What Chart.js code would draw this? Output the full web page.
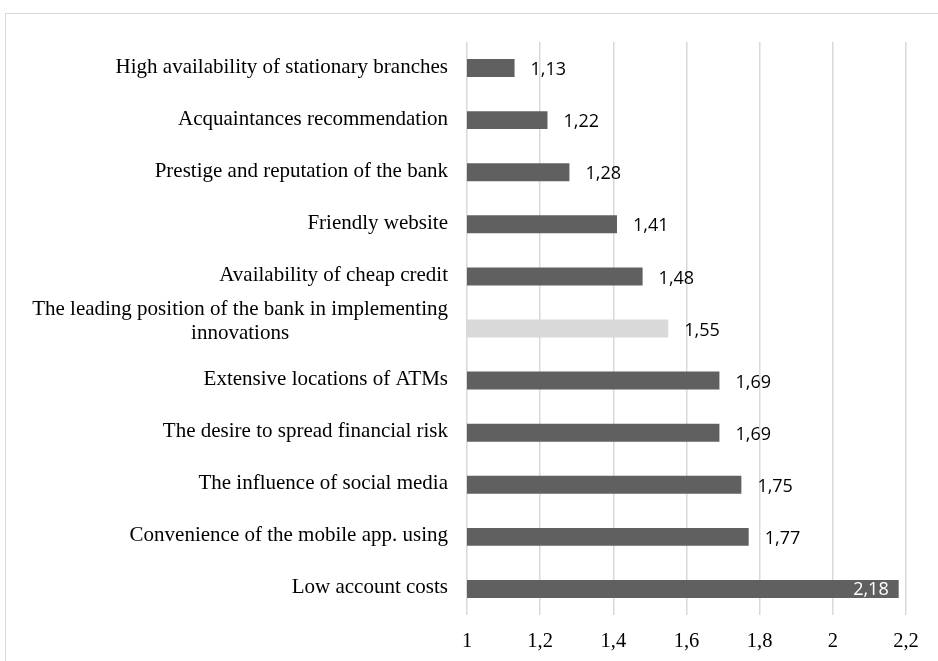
<!DOCTYPE html>
<html>
<head>
<meta charset="utf-8">
<script src="https://cdn.jsdelivr.net/npm/chart.js@4"></script>
<style>
    body { margin: 0; background: #fff; }
    #wrap { position: relative; width: 938px; height: 661px; overflow: hidden; }
    #frame { position: absolute; left: 5px; top: 13px; width: 1000px; height: 700px; border: 1.5px solid #d9d9d9; }
    canvas { position: absolute; left: 0; top: 0; }
</style>
</head>
<body>
<div id="wrap">
    <div id="frame"></div>
    <canvas id="chart" width="938" height="661"></canvas>
</div>
<script>
const labels = [
    "High availability of stationary branches",
    "Acquaintances recommendation",
    "Prestige and reputation of the bank",
    "Friendly website",
    "Availability of cheap credit",
    ["The leading position of the bank in implementing", "innovations"],
    "Extensive locations of ATMs",
    "The desire to spread financial risk",
    "The influence of social media",
    "Convenience of the mobile app. using",
    "Low account costs"
];
const values = [1.13, 1.22, 1.28, 1.41, 1.48, 1.55, 1.69, 1.69, 1.75, 1.77, 2.18];
const highlighted = 5;
const insideLabel = 10;

const serif = '"Liberation Serif", "Times New Roman", serif';
const fmt = v => String(v).replace('.', ',');

// category names on the left, multi-line ones centred on each other
const yLabelsPlugin = {
    id: 'yLabels',
    afterDraw(chart) {
        const ctx = chart.ctx;
        const y = chart.scales.y;
        ctx.save();
        ctx.font = '21px ' + serif;
        ctx.fillStyle = '#000';
        ctx.textBaseline = 'middle';
        const right = 448;
        labels.forEach((lab, i) => {
            const cy = y.getPixelForValue(i);
            if (Array.isArray(lab)) {
                const w = Math.max(...lab.map(t => ctx.measureText(t).width));
                const cx = right - w / 2;
                ctx.textAlign = 'center';
                const lh = 24;
                lab.forEach((t, k) => {
                    ctx.fillText(t, cx, cy - 7 + (k - (lab.length - 1) / 2) * lh);
                });
            } else {
                ctx.textAlign = 'right';
                ctx.fillText(lab, right, cy - 1);
            }
        });
        ctx.restore();
    }
};

// value labels next to (or inside) the bars
const valueLabelsPlugin = {
    id: 'valueLabels',
    afterDatasetsDraw(chart) {
        const ctx = chart.ctx;
        const meta = chart.getDatasetMeta(0);
        ctx.save();
        ctx.font = '18px "Open Sans", sans-serif';
        ctx.textBaseline = 'middle';
        meta.data.forEach((bar, i) => {
            const text = fmt(values[i]);
            if (i === insideLabel) {
                ctx.fillStyle = '#fff';
                ctx.textAlign = 'right';
                ctx.fillText(text, bar.x - 10, bar.y + 1);
            } else {
                ctx.fillStyle = '#000';
                ctx.textAlign = 'left';
                ctx.fillText(text, bar.x + 16, bar.y + 2);
            }
        });
        ctx.restore();
    }
};

new Chart(document.getElementById('chart'), {
    type: 'bar',
    data: {
        labels: labels,
        datasets: [{
            data: values,
            backgroundColor: values.map((v, i) => i === highlighted ? '#d9d9d9' : '#606060'),
            borderWidth: 0,
            barPercentage: 0.345,
            categoryPercentage: 1
        }]
    },
    options: {
        indexAxis: 'y',
        responsive: false,
        animation: false,
        layout: { padding: { left: 467, right: 32, top: 42, bottom: 0 } },
        plugins: {
            legend: { display: false },
            tooltip: { enabled: false }
        },
        scales: {
            x: {
                min: 1,
                max: 2.2,
                afterFit: axis => { axis.height = 46; },
                grid: { color: '#d9d9d9', lineWidth: 1.5, drawTicks: false },
                border: { display: false },
                ticks: {
                    stepSize: 0.2,
                    padding: 14,
                    color: '#000',
                    font: { family: serif, size: 20.5 },
                    callback: v => fmt(Math.round(v * 10) / 10)
                }
            },
            y: {
                display: false
            }
        }
    },
    plugins: [yLabelsPlugin, valueLabelsPlugin]
});
</script>
</body>
</html>
